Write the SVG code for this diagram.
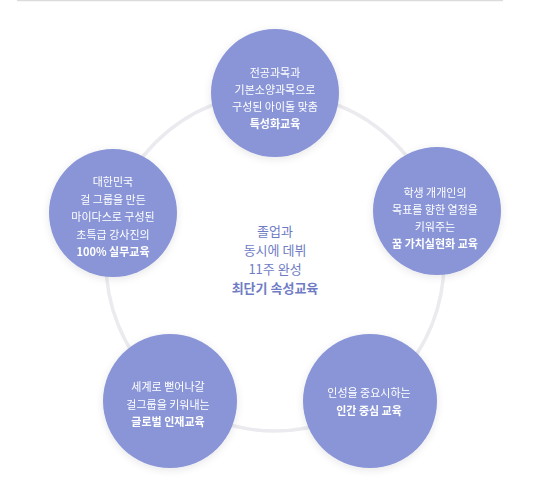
<svg xmlns="http://www.w3.org/2000/svg" width="550" height="502" viewBox="0 0 550 502">
<style>
.node{fill:#8995d6}
.t{font-family:"Noto Sans CJK KR","Noto Sans",sans-serif;font-size:11px;fill:#ffffff;text-anchor:middle}
.b{font-weight:bold}
.c{font-family:"Noto Sans CJK KR","Noto Sans",sans-serif;font-size:13px;fill:#6f7cc4;text-anchor:middle}
</style>
<defs>
<filter id="sh" x="-30%" y="-30%" width="160%" height="160%">
<feGaussianBlur in="SourceAlpha" stdDeviation="4"/>
<feOffset dy="2"/>
<feComponentTransfer><feFuncA type="linear" slope="0.1"/></feComponentTransfer>
<feMerge><feMergeNode/><feMergeNode in="SourceGraphic"/></feMerge>
</filter>
</defs>
<rect width="550" height="502" fill="#ffffff"/>
<line x1="17" y1="0.5" x2="503" y2="0.5" stroke="#dcdcdc" stroke-width="1.5"/>
<g id="connectors">
<circle cx="275" cy="262" r="169" fill="none" stroke="#ebebef" stroke-width="3.5"/>
</g>
<g id="center">
<text class="c" x="275" y="236">졸업과</text>
<text class="c" x="275" y="255">동시에 데뷔</text>
<text class="c" x="275" y="274">11주 완성</text>
<text class="c b" x="275" y="293" fill="#5c69b8">최단기 속성교육</text>
</g>
<g id="node-top" filter="url(#sh)">
<circle class="node" cx="275" cy="93" r="64"/>
<text class="t" x="275" y="77">전공과목과</text>
<text class="t" x="275" y="94">기본소양과목으로</text>
<text class="t" x="275" y="111">구성된 아이돌 맞춤</text>
<text class="t b" x="275" y="128">특성화교육</text>
</g>
<g id="node-right" filter="url(#sh)">
<circle class="node" cx="437" cy="211" r="64"/>
<text class="t" x="435" y="197">학생 개개인의</text>
<text class="t" x="435" y="214">목표를 향한 열정을</text>
<text class="t" x="435" y="231">키워주는</text>
<text class="t b" x="435" y="248">꿈 가치실현화 교육</text>
</g>
<g id="node-left" filter="url(#sh)">
<circle class="node" cx="113" cy="213" r="64"/>
<text class="t" x="113" y="186">대한민국</text>
<text class="t" x="113" y="204">걸 그룹을 만든</text>
<text class="t" x="113" y="221">마이다스로 구성된</text>
<text class="t" x="113" y="239">초특급 강사진의</text>
<text class="t b" x="113" y="256">100% 실무교육</text>
</g>
<g id="node-bottom-left" filter="url(#sh)">
<circle class="node" cx="170" cy="401" r="67"/>
<text class="t" x="168" y="391">세계로 뻗어나갈</text>
<text class="t" x="168" y="409">걸그룹을 키워내는</text>
<text class="t b" x="168" y="426">글로벌 인재교육</text>
</g>
<g id="node-bottom-right" filter="url(#sh)">
<circle class="node" cx="370" cy="401" r="67"/>
<text class="t" x="369" y="397">인성을 중요시하는</text>
<text class="t b" x="369" y="415">인간 중심 교육</text>
</g>
</svg>
